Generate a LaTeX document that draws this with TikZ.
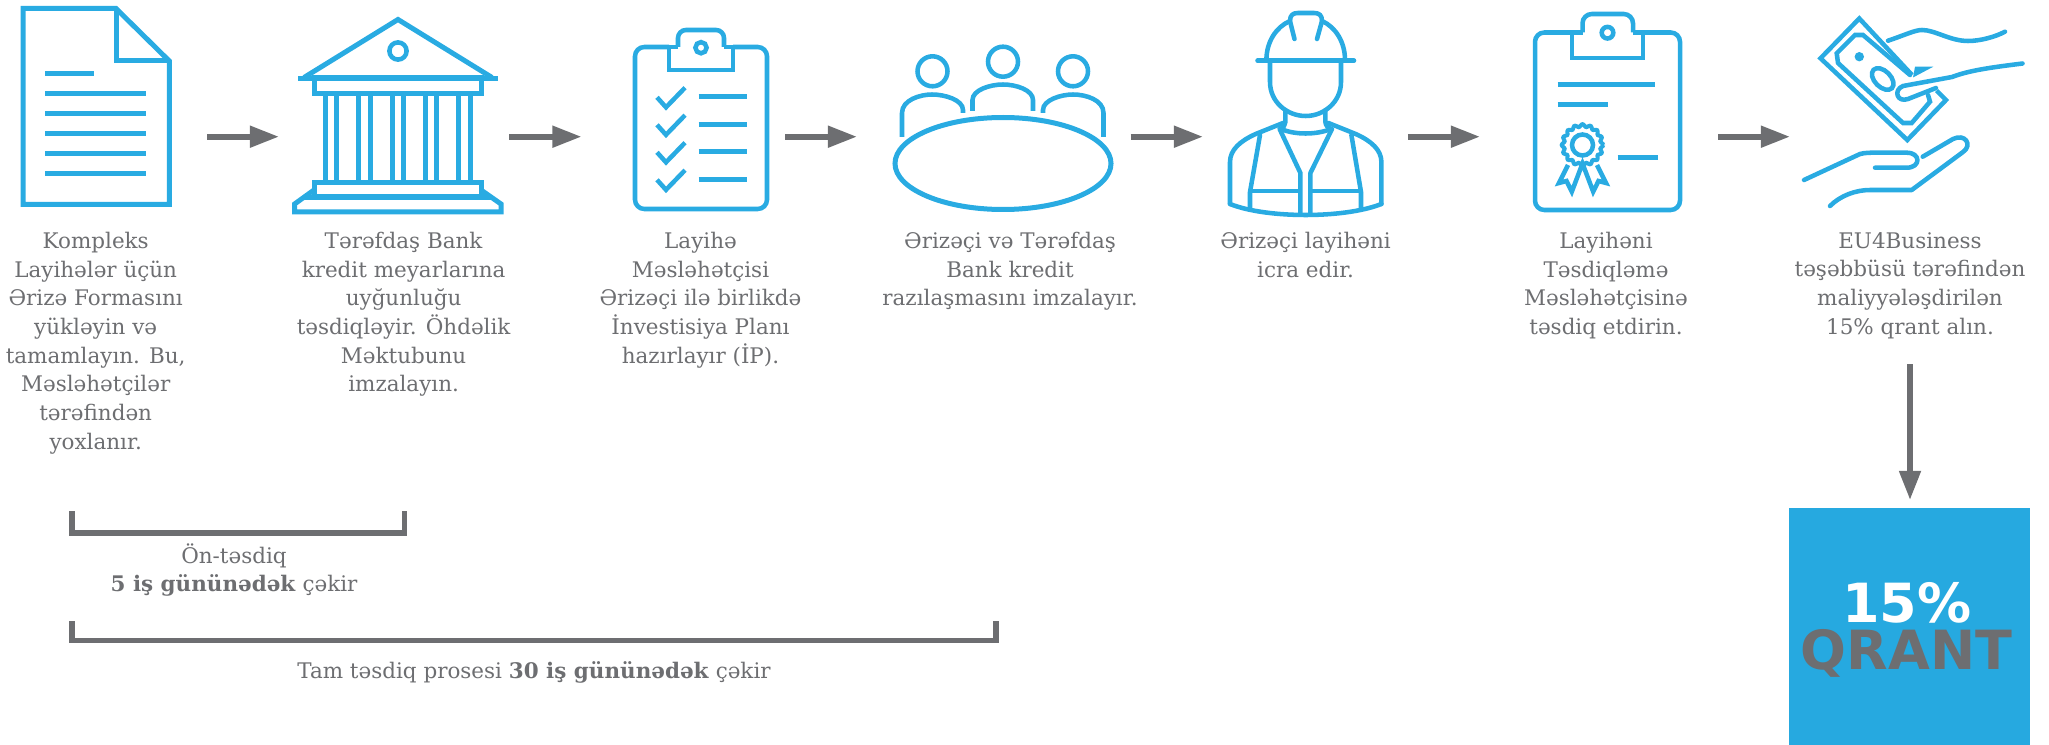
\documentclass[tikz,border=0pt]{standalone}
\usepackage{fontspec}
\setmainfont{DejaVu Serif}
\newfontfamily\grantfont[BoldFont={DejaVu Sans Bold}]{DejaVu Sans}
\usetikzlibrary{arrows.meta}
\definecolor{iconblue}{HTML}{29ABE2}
\definecolor{boxblue}{HTML}{26A9E0}
\definecolor{inkgrey}{HTML}{6D6E71}
\tikzset{
  icon/.style={draw=iconblue,line width=3.4pt,line join=miter,fill=none},
  iconr/.style={icon,line cap=round,line join=round},
  bar/.style={draw=iconblue,line width=3.75pt},
  flow/.style={draw=inkgrey,line width=4.3pt,-{Triangle[length=21.8pt,width=15.5pt]}},
  bracketline/.style={draw=inkgrey,line width=4.2pt,line join=miter},
  label/.style={anchor=north,inner sep=0pt,align=center,text=inkgrey,
    font=\fontsize{16.1}{21.5}\selectfont,execute at begin node={\strut}},
  bigtext/.style={anchor=base,inner sep=0pt,font=\grantfont\bfseries\fontsize{40.5}{40.5}\selectfont},
}
\begin{document}
\begin{tikzpicture}[x=0.75pt,y=-0.75pt]
\useasboundingbox (0,0) rectangle (2049,745);
% ---- document icon
\draw[icon,line width=3.75pt] (23.2,8.5) -- (116,8.5) -- (169.3,61) -- (169.3,204.5) -- (23.2,204.5) -- cycle;
\draw[icon,line width=3.75pt] (116,8.5) -- (116,61) -- (169.3,61);
\draw[bar] (45.4,73.7) -- (93.6,73.7);
\foreach \yy in {93.7,113.7,134,154,174}{\draw[bar] (45.4,\yy) -- (146.4,\yy);}
% ---- bank icon
\draw[bar,line join=miter] (304,77.5) -- (398,19.5) -- (492,77.5);
\draw[bar] (298,78.7) -- (497.5,78.7);
\draw[icon] (398,51) circle (8.6);
\draw[icon,line width=3.75pt] (314,78) rectangle (481,93.3);
\foreach \xx in {325.7,336.8,358.9,370,392.1,403.2,425.7,436.8,458.9,470}{\draw[bar] (\xx,93) -- (\xx,183);}
\draw[icon,line width=3.75pt] (314,183) rectangle (481,197);
\draw[icon,line width=3.75pt] (314,190) -- (294.6,204) -- (294.6,212) -- (501,212) -- (501,204) -- (481,190);
\draw[bar] (305,197.5) -- (491,197.5);
% ---- checklist clipboard
\draw[icon,rounded corners=7pt] (669,47) -- (635,47) -- (635,209) -- (767,209) -- (767,47) -- (733,47);
\draw[icon] (669,47) -- (669,70) -- (733,70) -- (733,47);
\draw[icon,rounded corners=6pt] (678,47) -- (678,30) -- (724,30) -- (724,47);
\draw[icon] (669,47) -- (678,47) (724,47) -- (733,47);
\draw[icon] (701,47.7) circle (5.6);
\foreach \dd in {0,27.5,55,82.5}{
  \draw[icon] (657,97.3+\dd) -- (666,107.3+\dd) -- (685,87.7+\dd);
  \draw[bar] (698.6,97+\dd) -- (747,97+\dd);
}
% ---- meeting table icon
\draw[icon,line width=3.75pt] (1003,163.5) ellipse (108 and 46);
\draw[icon] (932.5,71.3) circle (15);
\draw[icon] (1003,61.7) circle (15);
\draw[icon] (1073,71.3) circle (15);
\draw[icon] (902,137) -- (902,113) .. controls (902,100) and (920,94.5) .. (932,94.5) .. controls (945,94.5) and (963,100) .. (963,110) -- (963,113);
\draw[icon] (972.5,111) -- (972.5,100) .. controls (972.5,90) and (990,84.5) .. (1003,84.5) .. controls (1016,84.5) and (1033,90) .. (1033,100) -- (1033,111);
\draw[icon] (1043,113) -- (1043,110) .. controls (1043,100) and (1061,94.5) .. (1073,94.5) .. controls (1086,94.5) and (1103.5,100) .. (1103.5,113) -- (1103.5,137);
% ---- worker icon
\draw[iconr] (1257.5,60.7) -- (1354,60.7);
\draw[iconr] (1266.4,60) .. controls (1266.4,42) and (1276,27) .. (1290,21);
\draw[iconr] (1345,60) .. controls (1345,42) and (1335.5,27) .. (1322,21);
\draw[iconr] (1294.5,39) -- (1290,21) .. controls (1290,15) and (1293,13) .. (1298,13) -- (1314,13) .. controls (1319,13) and (1322,15) .. (1322,21) -- (1317,39);
\draw[iconr] (1270,61) -- (1270,82) .. controls (1270,102) and (1287,116) .. (1305.7,116) .. controls (1324,116) and (1341,102) .. (1341,82) -- (1341,61);
\draw[iconr] (1285.4,110) -- (1285.4,122) .. controls (1285.4,125) and (1283,128) .. (1280.7,129);
\draw[iconr] (1325.4,110) -- (1325.4,122) .. controls (1325.4,125) and (1328,128) .. (1330.7,129);
\draw[iconr] (1281,129) .. controls (1295,135) and (1316,135) .. (1331,129);
\draw[iconr] (1283,123) -- (1255.7,134) .. controls (1240,141) and (1230,150) .. (1230,162) -- (1230,204);
\draw[iconr] (1328.4,123) -- (1355.7,134) .. controls (1371.4,141) and (1381.4,150) .. (1381.4,162) -- (1381.4,204);
\draw[iconr] (1230,204) .. controls (1250,212) and (1280,215) .. (1305.7,215) .. controls (1331,215) and (1361,212) .. (1381.4,204);
\draw[iconr] (1260,135) -- (1250,192) -- (1250,208);
\draw[iconr] (1351.4,135) -- (1361,192) -- (1361,208);
\draw[iconr] (1279.6,129) -- (1300.4,173) -- (1300.4,213);
\draw[iconr] (1332,129) -- (1310.4,173) -- (1310.4,213);
\draw[icon] (1250,191) -- (1300.4,191) (1310.4,191) -- (1361,191);
% ---- certificate clipboard
\draw[icon,rounded corners=7pt] (1572,32.5) -- (1535,32.5) -- (1535,210) -- (1680,210) -- (1680,32.5) -- (1643,32.5);
\draw[icon] (1572,32.5) -- (1572,58) -- (1643,58) -- (1643,32.5);
\draw[icon,rounded corners=7pt] (1582.5,32.5) -- (1582.5,14) -- (1633,14) -- (1633,32.5);
\draw[icon] (1572,32.5) -- (1582.5,32.5) (1633,32.5) -- (1643,32.5);
\draw[icon] (1607.5,32.7) circle (5.8);
\draw[bar] (1557.5,84.7) -- (1655,84.7);
\draw[bar] (1557.5,105) -- (1607.5,105);
\draw[bar] (1617.5,157.3) -- (1657.5,157.3);
\draw[icon,line width=3pt] plot[domain=0:360,samples=121,smooth] ({1582.5+(19.5+1.3*cos(16*\x))*cos(\x)},{145+(19.5+1.3*cos(16*\x))*sin(\x)});
\draw[icon] (1582.5,145) circle (10.5);
\draw[icon] (1568,165) -- (1559,183) -- (1566.5,181) -- (1571.8,191.7) -- (1582.5,163.5) -- (1593.2,191.7) -- (1598.5,181) -- (1606,183) -- (1597,165);
% ---- money icon
\draw[icon] (1912,75) -- (1859.3,18.5) -- (1820.5,58.3) -- (1907.3,140) -- (1946,100) -- (1936.5,90.5);
\draw[iconr,line join=miter] (1910,75) -- (1863,35) -- (1855,35) -- (1836.7,53.3) -- (1838,63) -- (1903,123) -- (1911.7,123) -- (1930,101.7) -- (1928,95);
\fill[iconblue] (1859.3,56.7) circle (4.7);
\draw[icon,rotate around={-45:(1882.7,79)}] (1882.7,79) ellipse (13 and 8);
\fill[iconblue] (1915,66.7) -- (1933.3,66.7) -- (1913,77.5) -- cycle;
\draw[iconr] (2022.5,63.5) .. controls (1995,67) and (1970,70) .. (1952,77) -- (1903,86) .. controls (1893,90) and (1897,103) .. (1908,99) -- (1936,88);
\draw[iconr] (1888,40.7) .. controls (1905,35) and (1915,30) .. (1922,30) .. controls (1935,30) and (1950,41) .. (1968,41) .. controls (1980,41) and (1995,37) .. (2005,31.7);
\draw[iconr] (1804,180) -- (1860,154) .. controls (1865,152.7) and (1870,152.7) .. (1875,152.7) -- (1906.7,152.7) .. controls (1921,152.7) and (1921,167.7) .. (1906.7,167.7) -- (1875,167.7);
\draw[iconr] (1922.7,156.7) -- (1953,139) .. controls (1965,133) and (1973,145) .. (1963,152) -- (1911.7,190) -- (1870,190) .. controls (1855,190) and (1840,196) .. (1830,206);
% ---- arrows
\coordinate (a1s) at (207,136.7);  \coordinate (a1e) at (279,136.7);
\coordinate (a2s) at (509,136.7);  \coordinate (a2e) at (581.5,136.7);
\coordinate (a3s) at (785,136.7);  \coordinate (a3e) at (857,136.7);
\coordinate (a4s) at (1130.7,136.7); \coordinate (a4e) at (1203,136.7);
\coordinate (a5s) at (1407.9,136.7); \coordinate (a5e) at (1480,136.7);
\coordinate (a6s) at (1718,136.7); \coordinate (a6e) at (1790,136.7);
\coordinate (a7s) at (1910,364);   \coordinate (a7e) at (1910,500);
\foreach \n in {1,...,7}{\draw[flow] (a\n s) -- (a\n e);}
% ---- labels
\node[label] (t1) at (95.7,232) {Kompleks\\Layihələr üçün\\Ərizə Formasını\\yükləyin və\\tamamlayın. Bu,\\Məsləhətçilər\\tərəfindən\\yoxlanır.};
\node[label] (t2) at (403.6,232) {Tərəfdaş Bank\\kredit meyarlarına\\uyğunluğu\\təsdiqləyir. Öhdəlik\\Məktubunu\\imzalayın.};
\node[label] (t3) at (700.5,232) {Layihə\\Məsləhətçisi\\Ərizəçi ilə birlikdə\\İnvestisiya Planı\\hazırlayır (İP).};
\node[label] (t4) at (1010,232) {Ərizəçi və Tərəfdaş\\Bank kredit\\razılaşmasını imzalayır.};
\node[label] (t5) at (1305.6,232) {Ərizəçi layihəni\\icra edir.};
\node[label] (t6) at (1606,232) {Layihəni\\Təsdiqləmə\\Məsləhətçisinə\\təsdiq etdirin.};
\node[label] (t7) at (1910,232) {EU4Business\\təşəbbüsü tərəfindən\\maliyyələşdirilən\\15\% qrant alın.};
% ---- brackets
\coordinate (b1a) at (72,511);  \coordinate (b1b) at (404.5,511);
\coordinate (b2a) at (72,621);  \coordinate (b2b) at (996,621);
\draw[bracketline] (b1a) -- (72,533) -- (404.5,533) -- (b1b);
\draw[bracketline] (b2a) -- (72,640.5) -- (996,640.5) -- (b2b);
\node[label] (t8) at (234,543) {Ön-təsdiq\\\textbf{5 iş gününədək} çəkir};
\node[label] (t9) at (534,658) {Tam təsdiq prosesi \textbf{30 iş gününədək} çəkir};
% ---- grant box
\node[fill=boxblue,draw=none,inner sep=0pt,minimum width=241*0.75pt,minimum height=238*0.75pt] (grant) at (1909.5,627) {};
\node[bigtext,text=white] (g1) at (1907,622) {15\%};
\node[bigtext,text=inkgrey] (g2) at (1906.5,669) {QRANT};
\end{tikzpicture}
\end{document}
